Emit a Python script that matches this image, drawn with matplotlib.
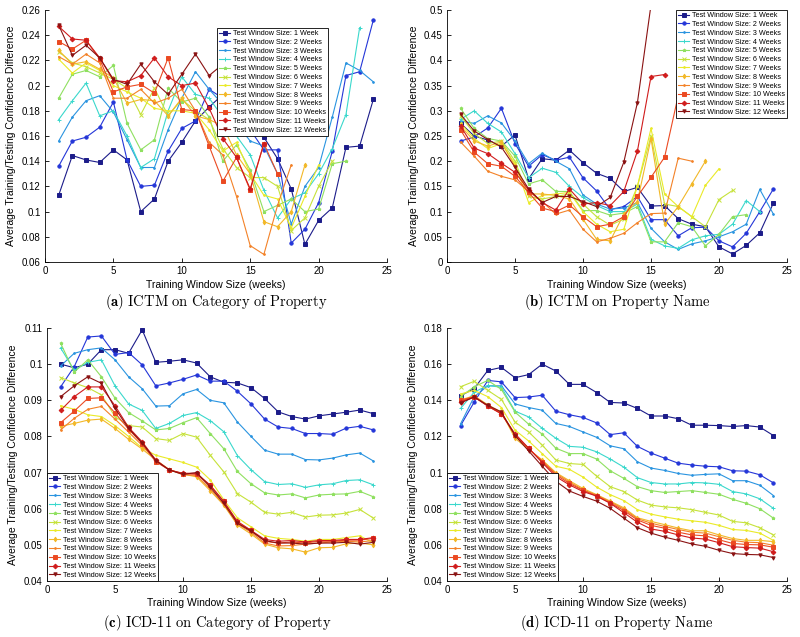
import numpy as np
import matplotlib
matplotlib.use("Agg")
import matplotlib.pyplot as plt

plt.rcParams['font.family'] = ['Liberation Sans', 'DejaVu Sans']
plt.rcParams['mathtext.fontset'] = 'cm'

labels = ["Test Window Size: 1 Week"] + ["Test Window Size: %d Weeks" % k for k in range(2, 13)]
colors = ['#1c1c8a', '#2436d8', '#2a94e0', '#3ad8cc', '#8fe060', '#c6e23a',
          '#eaea28', '#f2b828', '#f38228', '#eb4a22', '#d01c1c', '#8a1212']
markers = ['s', 'o', '.', '+', '*', 'x', '.', 'd', '.', 's', 'D', 'v']

# (a) ICTM on Category of Property
a1 = [0.113,0.1445,0.141,0.139,0.149,0.141,0.100,0.110,0.140,0.155,0.172,0.183,0.193,0.19,0.168,0.159,0.142,0.118,0.074,0.093,0.103,0.151,0.152,0.189]
a2 = [0.136,0.156,0.159,0.167,0.187,0.141,0.120,0.121,0.148,0.166,0.172,0.197,0.19,0.18,0.165,0.149,0.149,0.075,0.086,0.107,0.148,0.208,0.211,0.252]
a3 = [0.156,0.175,0.188,0.192,0.179,0.157,0.135,0.135,0.165,0.190,0.211,0.197,0.185,0.17,0.156,0.152,0.13,0.09,0.12,0.135,0.175,0.218,0.212,0.203]
a4 = [0.173,0.188,0.202,0.176,0.18,0.16,0.135,0.142,0.18,0.207,0.193,0.19,0.175,0.16,0.145,0.117,0.095,0.11,0.115,0.13,0.15,0.177,0.246]
a5 = [0.19,0.209,0.212,0.207,0.216,0.17,0.149,0.157,0.198,0.187,0.19,0.175,0.14,0.153,0.133,0.10,0.105,0.11,0.10,0.102,0.138,0.14]
a6 = [0.227,0.218,0.215,0.21,0.205,0.198,0.177,0.198,0.176,0.189,0.18,0.173,0.15,0.135,0.127,0.127,0.12,0.085,0.095,0.12,0.14]
a7 = [0.221,0.21,0.218,0.212,0.20,0.195,0.19,0.182,0.18,0.18,0.178,0.165,0.148,0.155,0.13,0.113,0.11,0.087,0.112,0.137]
a8 = [0.228,0.217,0.219,0.213,0.206,0.186,0.189,0.188,0.176,0.19,0.176,0.173,0.168,0.145,0.13,0.092,0.088,0.1,0.137]
a9 = [0.223,0.217,0.225,0.218,0.19,0.19,0.197,0.186,0.19,0.197,0.18,0.155,0.145,0.112,0.073,0.066,0.105,0.137]
a10 = [0.235,0.229,0.236,0.221,0.195,0.199,0.201,0.194,0.222,0.181,0.18,0.152,0.124,0.143,0.117,0.154,0.13]
a11 = [0.247,0.237,0.236,0.222,0.204,0.203,0.208,0.222,0.207,0.200,0.202,0.182,0.158,0.143,0.118,0.154]
a12 = [0.248,0.224,0.232,0.222,0.205,0.201,0.217,0.203,0.193,0.209,0.225,0.208,0.217,0.21,0.2]

# (b) ICTM on Property Name
b1 = [0.275,0.25,0.242,0.23,0.252,0.165,0.205,0.202,0.222,0.197,0.176,0.166,0.14,0.148,0.111,0.112,0.086,0.075,0.07,0.03,0.016,0.033,0.058,0.117]
b2 = [0.24,0.248,0.266,0.305,0.235,0.19,0.213,0.202,0.208,0.167,0.141,0.104,0.11,0.13,0.084,0.084,0.052,0.068,0.069,0.042,0.03,0.057,0.1,0.145]
b3 = [0.28,0.275,0.29,0.276,0.24,0.195,0.216,0.2,0.185,0.133,0.115,0.105,0.107,0.118,0.067,0.04,0.025,0.036,0.042,0.05,0.06,0.075,0.144,0.095]
b4 = [0.283,0.3,0.275,0.258,0.215,0.167,0.186,0.178,0.15,0.128,0.112,0.1,0.1,0.115,0.045,0.032,0.027,0.044,0.052,0.055,0.075,0.122,0.1]
b5 = [0.305,0.265,0.245,0.24,0.21,0.155,0.163,0.14,0.14,0.102,0.102,0.093,0.097,0.11,0.04,0.04,0.078,0.07,0.032,0.055,0.09,0.094]
b6 = [0.29,0.255,0.235,0.24,0.2,0.13,0.125,0.13,0.135,0.115,0.09,0.073,0.085,0.15,0.25,0.115,0.11,0.09,0.07,0.124,0.142]
b7 = [0.275,0.245,0.225,0.235,0.195,0.118,0.132,0.135,0.138,0.1,0.075,0.06,0.065,0.15,0.265,0.135,0.11,0.09,0.152,0.185]
b8 = [0.27,0.24,0.23,0.238,0.19,0.135,0.135,0.132,0.125,0.085,0.045,0.042,0.095,0.12,0.245,0.075,0.11,0.155,0.2]
b9 = [0.238,0.21,0.18,0.17,0.163,0.14,0.12,0.095,0.103,0.065,0.04,0.047,0.057,0.078,0.096,0.097,0.206,0.2]
b10 = [0.262,0.218,0.195,0.19,0.17,0.138,0.107,0.1,0.113,0.09,0.07,0.075,0.09,0.13,0.168,0.208,0.33]
b11 = [0.27,0.226,0.215,0.196,0.178,0.143,0.118,0.103,0.145,0.115,0.118,0.112,0.14,0.22,0.368,0.372]
b12 = [0.293,0.26,0.243,0.228,0.188,0.145,0.118,0.13,0.13,0.12,0.11,0.128,0.198,0.316,0.51]

# (c) ICD-11 on Category of Property
c1 = [0.1,0.099,0.1,0.104,0.104,0.103,0.1095,0.1005,0.1008,0.1012,0.1003,0.0965,0.095,0.0948,0.0935,0.0905,0.0868,0.0855,0.0848,0.0857,0.0862,0.0867,0.0873,0.0863]
c2 = [0.0937,0.0993,0.1075,0.1078,0.1027,0.1032,0.0998,0.094,0.0948,0.0958,0.097,0.0953,0.0953,0.0925,0.089,0.0848,0.0826,0.0822,0.0808,0.0808,0.0806,0.0823,0.0828,0.0818]
c3 = [0.0995,0.103,0.104,0.1045,0.1012,0.0965,0.0932,0.0884,0.0885,0.0918,0.093,0.09,0.0893,0.084,0.08,0.0762,0.0751,0.0751,0.0736,0.0735,0.074,0.0749,0.0754,0.0732]
c4 = [0.1045,0.0983,0.1005,0.1012,0.094,0.089,0.0872,0.0822,0.0836,0.0858,0.0866,0.0844,0.0813,0.0747,0.0708,0.0675,0.0667,0.0669,0.0659,0.0666,0.0669,0.0678,0.068,0.0666]
c5 = [0.1058,0.0978,0.1012,0.0965,0.0906,0.0866,0.0843,0.0818,0.0822,0.0838,0.0852,0.0808,0.0766,0.0703,0.0669,0.0644,0.0638,0.0641,0.063,0.0638,0.064,0.0641,0.0648,0.0633]
c6 = [0.0963,0.0948,0.0935,0.0915,0.0855,0.083,0.0826,0.0794,0.0789,0.0808,0.0798,0.0748,0.0702,0.0642,0.0618,0.059,0.0585,0.059,0.0577,0.0582,0.0583,0.0588,0.0598,0.0574]
c7 = [0.0885,0.0875,0.086,0.0855,0.083,0.08,0.0768,0.0748,0.0738,0.0728,0.0715,0.068,0.0625,0.0575,0.055,0.0525,0.0518,0.0515,0.051,0.0515,0.0515,0.052,0.0525,0.0505]
c8 = [0.0828,0.0836,0.0845,0.0848,0.0822,0.0792,0.0765,0.0735,0.0708,0.0696,0.0688,0.065,0.061,0.0555,0.053,0.0502,0.0492,0.0489,0.048,0.0492,0.0493,0.0503,0.0505,0.05]
c9 = [0.0818,0.085,0.0875,0.0883,0.0848,0.0812,0.0775,0.0732,0.0708,0.0694,0.0692,0.0655,0.0612,0.0558,0.0535,0.0505,0.0497,0.0498,0.0502,0.0505,0.0508,0.051,0.0508,0.0512]
c10 = [0.0838,0.087,0.0905,0.0907,0.0865,0.082,0.078,0.073,0.0707,0.0697,0.0695,0.0665,0.062,0.0562,0.054,0.051,0.0505,0.0508,0.0505,0.051,0.051,0.0513,0.0513,0.0518]
c11 = [0.0872,0.091,0.0937,0.0937,0.0885,0.0825,0.0785,0.0735,0.0707,0.0698,0.0698,0.0665,0.062,0.0565,0.054,0.0515,0.051,0.0512,0.0508,0.0512,0.0512,0.0515,0.0515,0.052]
c12 = [0.091,0.094,0.0965,0.0947,0.0878,0.0822,0.0782,0.0733,0.0707,0.0695,0.07,0.066,0.0615,0.056,0.0538,0.0512,0.0505,0.0505,0.0502,0.0505,0.0505,0.0507,0.0502,0.0507]

# (d) ICD-11 on Property Name
d1 = [0.1425,0.1465,0.1565,0.1582,0.1525,0.1542,0.16,0.1562,0.1488,0.1488,0.1443,0.1388,0.1385,0.1355,0.1313,0.1313,0.1298,0.1262,0.1262,0.126,0.1255,0.126,0.1252,0.1205]
d2 = [0.126,0.139,0.151,0.1502,0.1415,0.1418,0.1428,0.134,0.132,0.1305,0.1275,0.121,0.122,0.1145,0.1108,0.108,0.1052,0.1042,0.1035,0.1032,0.101,0.1008,0.0988,0.0943]
d3 = [0.127,0.142,0.148,0.148,0.138,0.136,0.1345,0.1272,0.1255,0.1225,0.1195,0.1148,0.1132,0.106,0.1025,0.1012,0.0995,0.0985,0.099,0.0993,0.0955,0.0955,0.093,0.0873]
d4 = [0.1355,0.1445,0.1482,0.1472,0.134,0.1308,0.1245,0.119,0.1145,0.114,0.1115,0.1075,0.103,0.0972,0.0945,0.0937,0.0937,0.0945,0.0943,0.0935,0.0895,0.0882,0.0855,0.0802]
d5 = [0.142,0.1475,0.151,0.146,0.1335,0.1268,0.1213,0.1135,0.1105,0.1105,0.1075,0.101,0.0968,0.0922,0.09,0.089,0.0895,0.09,0.089,0.088,0.0852,0.083,0.08,0.0748]
d6 = [0.1475,0.1505,0.1455,0.1405,0.128,0.1225,0.1152,0.107,0.105,0.1045,0.098,0.0922,0.0895,0.0848,0.082,0.081,0.0805,0.0795,0.078,0.0765,0.073,0.0722,0.0695,0.0655]
d7 = [0.1435,0.1455,0.142,0.136,0.1235,0.1175,0.1105,0.1035,0.1018,0.0975,0.092,0.0878,0.0845,0.0795,0.077,0.0755,0.0742,0.0733,0.0725,0.0708,0.0685,0.068,0.0665,0.0625]
d8 = [0.1402,0.1425,0.1375,0.1335,0.119,0.1128,0.107,0.1,0.0955,0.0912,0.0878,0.0842,0.0805,0.075,0.073,0.0712,0.0693,0.0678,0.0678,0.0655,0.0635,0.0625,0.0625,0.0618]
d9 = [0.1395,0.1422,0.137,0.133,0.1205,0.1132,0.1065,0.0995,0.0948,0.0905,0.0875,0.0838,0.0798,0.0745,0.072,0.0702,0.0685,0.067,0.0665,0.0645,0.0625,0.0615,0.0612,0.0598]
d10 = [0.14,0.142,0.1368,0.1325,0.121,0.1135,0.106,0.0988,0.094,0.0902,0.087,0.0832,0.079,0.0738,0.0708,0.0692,0.067,0.0655,0.065,0.0628,0.0608,0.0602,0.06,0.0587]
d11 = [0.139,0.1418,0.1368,0.1325,0.1215,0.1135,0.1055,0.0978,0.0932,0.0895,0.087,0.083,0.0778,0.0725,0.0688,0.0675,0.0655,0.0638,0.0632,0.0612,0.059,0.0585,0.0582,0.0562]
d12 = [0.1385,0.1418,0.1372,0.1335,0.1205,0.112,0.1035,0.0952,0.0898,0.0868,0.0842,0.0802,0.0748,0.0695,0.0665,0.0643,0.0625,0.0605,0.0592,0.057,0.0552,0.0547,0.0545,0.053]

panels = [
    ([a1,a2,a3,a4,a5,a6,a7,a8,a9,a10,a11,a12], (0.06, 0.26), np.arange(0.06, 0.261, 0.02),
     r"$\mathbf{(a)}\ \mathrm{ICTM\ on\ Category\ of\ Property}$", 'upper right', (0.827, 0.929), 302, 3),
    ([b1,b2,b3,b4,b5,b6,b7,b8,b9,b10,b11,b12], (0.0, 0.5), np.arange(0.0, 0.501, 0.05),
     r"$\mathbf{(b)}\ \mathrm{ICTM\ on\ Property\ Name}$", 'upper right', (1.0, 1.0), 302, 3),
    ([c1,c2,c3,c4,c5,c6,c7,c8,c9,c10,c11,c12], (0.04, 0.11), np.arange(0.04, 0.1101, 0.01),
     r"$\mathbf{(c)}\ \mathrm{ICD\text{-}11\ on\ Category\ of\ Property}$", 'lower left', (0.0, 0.0), 623, 2),
    ([d1,d2,d3,d4,d5,d6,d7,d8,d9,d10,d11,d12], (0.04, 0.18), np.arange(0.04, 0.1801, 0.02),
     r"$\mathbf{(d)}\ \mathrm{ICD\text{-}11\ on\ Property\ Name}$", 'lower left', (0.0, 0.0), 623, 2),
]

rects = [
    [45/800, 1-262/637, 342/800, 252/637],
    [447/800, 1-262/637, 340/800, 252/637],
    [47/800, 1-581/637, 340/800, 253/637],
    [447/800, 1-581/637, 340/800, 253/637],
]

def fmt(v):
    return ('%.2f' % v).rstrip('0').rstrip('.')

fig = plt.figure(figsize=(8, 6.37), dpi=100)
for (series, ylim, yt, cap, loc, anchor, capy, lpad), r in zip(panels, rects):
    ax = fig.add_axes(r)
    for i, ys in enumerate(series):
        xs = np.arange(1, len(ys) + 1)
        ax.plot(xs, ys, color=colors[i], marker=markers[i], markersize=2.4,
                linewidth=0.8, markeredgewidth=0.7, label=labels[i])
    ax.set_xlim(0, 25)
    ax.set_ylim(*ylim)
    ax.set_xticks([0, 5, 10, 15, 20, 25])
    ax.set_yticks(yt)
    ax.set_yticklabels([fmt(v) for v in yt])
    ax.spines['top'].set_visible(False)
    ax.spines['right'].set_visible(False)
    for s in ['left', 'bottom']:
        ax.spines[s].set_linewidth(0.6)
    ax.tick_params(direction='in', length=3, width=0.6, labelsize=7, pad=3)
    ax.set_xlabel("Training Window Size (weeks)", fontsize=7.5, labelpad=lpad)
    ax.set_ylabel("Average Training/Testing Confidence Difference", fontsize=7.5, labelpad=4)
    leg = ax.legend(loc=loc, bbox_to_anchor=anchor, fontsize=5.2, frameon=True, fancybox=False,
                    edgecolor='black', framealpha=1, borderpad=0.3, labelspacing=0.24,
                    handlelength=1.5, handletextpad=0.35, borderaxespad=0.0)
    leg.get_frame().set_linewidth(0.6)
    fig.text(r[0] + r[2] / 2, 1 - capy / 637, cap, ha='center', va='center', fontsize=10.5)

fig.savefig("out.png", dpi=100)
